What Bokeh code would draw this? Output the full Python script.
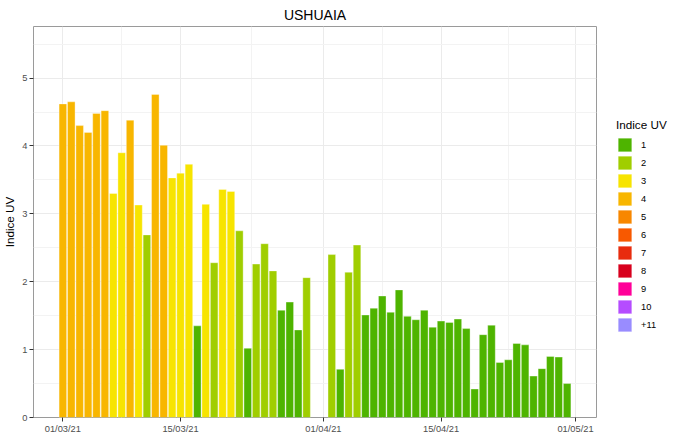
import numpy as np
import pandas as pd
from bokeh.plotting import figure
from bokeh.models import (ColumnDataSource, Range1d, FixedTicker, DatetimeTickFormatter,
                          Legend, LegendItem)
from bokeh.embed import file_html
from bokeh.resources import INLINE

# ---- data -------------------------------------------------------------
dates = (
    ["2021-03-%02d" % d for d in range(1, 31)] +
    ["2021-04-%02d" % d for d in range(2, 31)]
)
uv = [
    4.62, 4.65, 4.30, 4.20, 4.48, 4.52, 3.30, 3.90, 4.38, 3.13,
    2.69, 4.76, 4.01, 3.53, 3.60, 3.73, 1.35, 3.14, 2.28, 3.36,
    3.33, 2.75, 1.02, 2.26, 2.56, 2.16, 1.58, 1.70, 1.29, 2.06,
    2.40, 0.71, 2.14, 2.54, 1.51, 1.61, 1.79, 1.55, 1.88, 1.49,
    1.44, 1.58, 1.33, 1.42, 1.40, 1.45, 1.31, 0.42, 1.22, 1.36,
    0.81, 0.85, 1.09, 1.07, 0.61, 0.72, 0.90, 0.89, 0.50,
]
category = [
    4, 4, 4, 4, 4, 4, 3, 3, 4, 3,
    2, 4, 4, 3, 3, 3, 1, 3, 2, 3,
    3, 2, 1, 2, 2, 2, 1, 1, 1, 2,
    2, 1, 2, 2, 1, 1, 1, 1, 1, 1,
    1, 1, 1, 1, 1, 1, 1, 1, 1, 1,
    1, 1, 1, 1, 1, 1, 1, 1, 1,
]
cat_labels = ["1", "2", "3", "4", "5", "6", "7", "8", "9", "10", "+11"]
cat_colors = ["#4EB400", "#A0CE00", "#F7E400", "#F8B600", "#F88700", "#F85900",
              "#E82C0E", "#D8001D", "#FF0099", "#B54CFF", "#998CFF"]

major_dates = ["2021-03-01", "2021-03-15", "2021-04-01", "2021-04-15", "2021-05-01"]
minor_dates = ["2021-03-08", "2021-03-23 12:00", "2021-04-08", "2021-04-23"]
y_major = [0, 1, 2, 3, 4, 5]
y_minor = [0.5, 1.5, 2.5, 3.5, 4.5, 5.5]

# ---- helpers ----------------------------------------------------------
DAY = 86400000.0
EPOCH = pd.Timestamp("1970-01-01")


def to_ms(s):
    return (pd.Timestamp(s) - EPOCH).total_seconds() * 1000.0


x_ms = [to_ms(d) for d in dates]
x_start = min(x_ms) - 0.45 * DAY
x_end = max(x_ms) + 0.45 * DAY
pad = 0.05 * (x_end - x_start)

FONT = "Liberation Sans"

p = figure(
    frame_width=563, frame_height=391,
    x_axis_type="datetime",
    x_range=Range1d(x_start - pad, x_end + pad),
    y_range=Range1d(0, 5.76),
    output_backend="svg", toolbar_location=None,
    min_border_left=29, min_border_right=70, min_border_top=0, min_border_bottom=0,
    title="USHUAIA",
)
p.background_fill_color = "white"
p.border_fill_color = "white"
p.outline_line_color = "#9A9A9A"
p.outline_line_width = 1

p.title.align = "center"
p.title.text_font = FONT
p.title.text_font_size = "14px"
p.title.text_font_style = "normal"
p.title.text_color = "black"
p.title.standoff = 8

items = []
for i, (lab, col) in enumerate(zip(cat_labels, cat_colors)):
    xs = np.array([x for x, c in zip(x_ms, category) if c == i + 1], dtype=float)
    ts = np.array([v for v, c in zip(uv, category) if c == i + 1], dtype=float)
    if len(xs) == 0:
        # category absent from the data: a NaN row keeps its legend key drawn
        xs = np.array([x_ms[0]], dtype=float)
        ts = np.array([np.nan])
    src = ColumnDataSource(dict(x=xs, top=ts))
    r = p.vbar(x="x", top="top", bottom=0, width=0.9 * DAY, source=src,
               fill_color=col, line_color="white", line_alpha=0.35, line_width=1)
    items.append(LegendItem(label=lab, renderers=[r]))

# axes
p.xaxis.ticker = FixedTicker(ticks=[to_ms(d) for d in major_dates],
                             minor_ticks=[to_ms(d) for d in minor_dates])
fmt = "%d/%m/%y"
p.xaxis.formatter = DatetimeTickFormatter(days=fmt, months=fmt, years=fmt, hours=fmt,
                                          hourmin=fmt, minutes=fmt, minsec=fmt,
                                          seconds=fmt, milliseconds=fmt, microseconds=fmt)
p.yaxis.ticker = FixedTicker(ticks=y_major, minor_ticks=y_minor)
p.yaxis.axis_label = "Indice UV"

for ax in (p.xaxis, p.yaxis):
    ax.axis_line_color = None
    ax.major_tick_line_color = "#333333"
    ax.major_tick_out = 4
    ax.major_tick_in = 0
    ax.minor_tick_line_color = None
    ax.major_label_text_font = FONT
    ax.major_label_text_font_size = "9.3px"
    ax.major_label_text_color = "#4D4D4D"
    ax.major_label_standoff = 2
    ax.axis_label_text_font = FONT
    ax.axis_label_text_font_size = "11.7px"
    ax.axis_label_text_font_style = "normal"
    ax.axis_label_text_color = "black"
    ax.axis_label_standoff = 3

for g in (p.xgrid, p.ygrid):
    g.grid_line_color = "#EBEBEB"
    g.grid_line_width = 1
    g.minor_grid_line_color = "#F3F3F3"
    g.minor_grid_line_width = 1

legend = Legend(items=items, location=(20, 84), title="Indice UV")
legend.title_text_font = FONT
legend.title_text_font_size = "11.7px"
legend.title_text_font_style = "normal"
legend.title_text_color = "black"
legend.title_standoff = 5
legend.label_text_font = FONT
legend.label_text_font_size = "9.3px"
legend.label_text_color = "black"
legend.glyph_width = 17
legend.glyph_height = 17
legend.label_height = 17
legend.label_standoff = 8
legend.spacing = 1
legend.padding = 2
legend.margin = 0
legend.border_line_color = None
legend.background_fill_alpha = 0
p.add_layout(legend, "right")

open("out.html", "w").write(file_html(p, INLINE))
